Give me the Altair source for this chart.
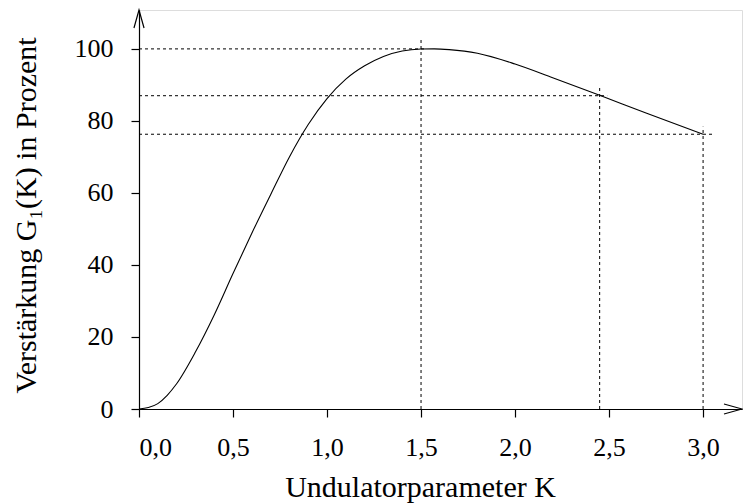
import altair as alt
import pandas as pd

# Curve: undulator parameter K vs gain G1(K) in percent
K_values = [0.00, 0.05, 0.10, 0.15, 0.20, 0.30, 0.40, 0.50, 0.60, 0.70, 0.80, 0.90,
            1.00, 1.10, 1.20, 1.30, 1.40, 1.50, 1.57, 1.65, 1.80, 2.00, 2.20, 2.45,
            2.70, 3.00]
G_values = [0.0, 0.4, 1.5, 3.8, 7.0, 15.8, 26.1, 37.6, 48.8, 59.5, 70.0, 79.0,
            86.2, 91.6, 95.3, 97.9, 99.4, 99.95, 100.0, 99.8, 98.8, 95.8, 92.0, 87.1,
            82.1, 76.3]

# dotted guide lines
h_level = [100.0, 87.0, 76.3]
h_end_K = [1.53, 2.49, 3.06]
v_K = [1.50, 2.45, 3.00]
v_top = [102.5, 89.5, 78.4]

x_ticks = [0.0, 0.5, 1.0, 1.5, 2.0, 2.5, 3.0]
y_ticks = [0, 20, 40, 60, 80, 100]
x_max = 3.207
y_max = 110.8

FONT = "Liberation Serif"

curve = pd.DataFrame({"K": K_values, "G": G_values})
hlines = pd.DataFrame({"y": h_level, "x0": [0.0] * len(h_level), "x1": h_end_K})
vlines = pd.DataFrame({"x": v_K, "y0": [0.0] * len(v_K), "y1": v_top})
arrow_x = pd.DataFrame({"K": [x_max], "G": [0.0]})
arrow_y = pd.DataFrame({"K": [0.0], "G": [y_max]})

xscale = alt.Scale(domain=[0, x_max], nice=False, zero=False)
yscale = alt.Scale(domain=[0, y_max], nice=False, zero=False)

xaxis = alt.Axis(
    values=x_ticks,
    labelExpr="replace(format(datum.value, '.1f'), '.', ',')",
    title="Undulatorparameter K",
    grid=False, domainColor="black", domainWidth=1.2,
    tickColor="black", tickSize=8, tickWidth=1.2,
    labelFont=FONT, labelFontSize=26, labelColor="black", labelPadding=17,
    titleFont=FONT, titleFontSize=30, titleFontWeight="normal", titleColor="black",
    titleX=281, titleY=87, titleBaseline="alphabetic", titleAlign="center",
)
yaxis = alt.Axis(
    values=y_ticks,
    format="d",
    title="Verstärkung G₁(K) in Prozent",
    grid=False, domainColor="black", domainWidth=1.2,
    tickColor="black", tickSize=8, tickWidth=1.2,
    labelFont=FONT, labelFontSize=26, labelColor="black", labelPadding=18,
    titleFont=FONT, titleFontSize=30, titleFontWeight="normal", titleColor="black",
    titleX=-104, titleY=205, titleBaseline="alphabetic", titleAlign="center", titleAngle=270,
)

line = alt.Chart(curve).mark_line(color="black", strokeWidth=1.1, interpolate="monotone").encode(
    x=alt.X("K:Q", scale=xscale, axis=xaxis),
    y=alt.Y("G:Q", scale=yscale, axis=yaxis),
)

h = alt.Chart(hlines).mark_rule(color="black", strokeWidth=1, strokeDash=[3, 3]).encode(
    x=alt.X("x0:Q", scale=xscale), x2="x1:Q", y=alt.Y("y:Q", scale=yscale)
)
v = alt.Chart(vlines).mark_rule(color="black", strokeWidth=1, strokeDash=[3, 3]).encode(
    x=alt.X("x:Q", scale=xscale), y=alt.Y("y0:Q", scale=yscale), y2="y1:Q"
)

ax = alt.Chart(arrow_x).mark_point(
    shape="M -1 -0.28 L 0 0 L -1 0.28", filled=False, color="black",
    strokeWidth=1.2, size=1296, opacity=1,
).encode(x=alt.X("K:Q", scale=xscale), y=alt.Y("G:Q", scale=yscale))
ay = alt.Chart(arrow_y).mark_point(
    shape="M -0.28 1 L 0 0 L 0.28 1", filled=False, color="black",
    strokeWidth=1.2, size=1296, opacity=1,
).encode(x=alt.X("K:Q", scale=xscale), y=alt.Y("G:Q", scale=yscale))

chart = alt.layer(h, v, line, ax, ay).properties(
    width=603, height=399,
    autosize=alt.AutoSizeParams(type="none"),
    padding={"left": 139, "top": 10, "right": 1, "bottom": 95},
).configure_view(stroke=None).configure(background="white")

chart.save("out.html", embed_options={"renderer": "svg", "actions": False})
